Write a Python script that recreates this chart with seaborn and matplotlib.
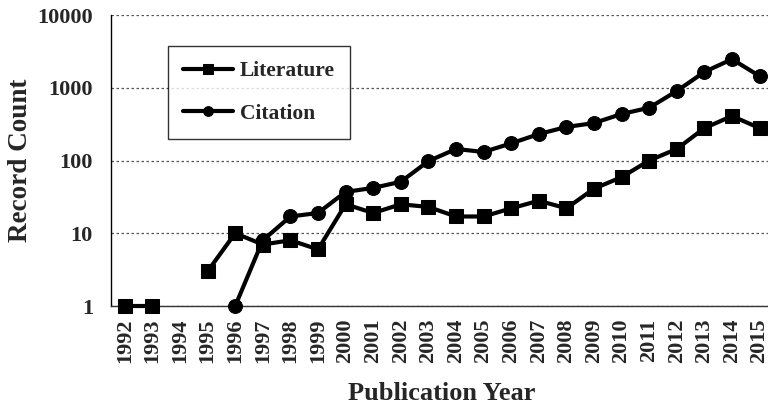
import numpy as np
import pandas as pd
import matplotlib
matplotlib.use("Agg")
import matplotlib.pyplot as plt
import seaborn as sns

years = list(range(1992, 2016))
literature = [1, 1, np.nan, 3, 10, 7, 8, 6, 25, 19, 25, 23, 17, 17, 22, 28, 22,
              41, 59, 100, 144, 279, 408, 279]
citation = [np.nan, np.nan, np.nan, np.nan, 1, 8, 17, 19, 37, 42, 51, 98, 144,
            131, 172, 231, 289, 327, 436, 531, 902, 1650, 2470, 1445]
ytick_vals = [1, 10, 100, 1000, 10000]
ytick_labels = ["1", "10", "100", "1000", "10000"]

sns.set_style("white")
plt.rcParams['font.family'] = ['Liberation Serif', 'DejaVu Serif']
plt.rcParams['font.weight'] = 'bold'

df = pd.DataFrame({"year": years, "Literature": literature, "Citation": citation})

fig = plt.figure(figsize=(7.68, 4.11), dpi=100)
ax = fig.add_axes([111/768, 105/411, 662.4/768, 291/411])

def segments(col):
    mask = df[col].notna().values
    segs, cur = [], []
    for i, m in enumerate(mask):
        if m:
            cur.append(i)
        elif cur:
            segs.append(cur); cur = []
    if cur:
        segs.append(cur)
    return segs

styles = {"Literature": dict(marker="s", markersize=10),
          "Citation": dict(marker="o", markersize=10)}
for col in ["Literature", "Citation"]:
    segs = segments(col)
    for k, idx in enumerate(segs):
        sub = df.iloc[idx]
        sns.lineplot(data=sub, x="year", y=col, ax=ax, color="black",
                     linewidth=3, markeredgecolor="black",
                     label=col if k == len(segs) - 1 else None,
                     clip_on=False, zorder=5, **styles[col])

ax.set_yscale("log")
ax.set_ylim(1, 10000)
ax.set_xlim(1991.5, 2015.5)
ax.set_yticks(ytick_vals)
ax.set_yticklabels(ytick_labels)
ax.minorticks_off()
ax.set_xticks(years)
ax.set_xticklabels([str(y) for y in years], rotation=90)
ax.tick_params(axis="x", length=0, labelsize=16, pad=9)
ax.tick_params(axis="y", length=0, labelsize=16, pad=13)
for lab in ax.get_xticklabels() + ax.get_yticklabels():
    lab.set_fontweight("bold")

ax.yaxis.grid(True, linestyle=(0, (2, 2)), color="#555555", linewidth=0.9)
ax.xaxis.grid(False)
ax.spines["top"].set_visible(False)
ax.spines["right"].set_visible(False)
ax.spines["left"].set_color("black")
ax.spines["left"].set_linewidth(1)
ax.spines["bottom"].set_color("#333333")
ax.spines["bottom"].set_linewidth(1)

ax.set_xlabel("Publication Year", fontsize=19, fontweight="bold", labelpad=14)
ax.set_ylabel("Record Count", fontsize=19.5, fontweight="bold", labelpad=3)

leg = ax.legend(loc="upper left", bbox_to_anchor=(0.086, 0.893), borderaxespad=0,
                fancybox=False, frameon=True, edgecolor="black",
                prop={"size": 15.5, "weight": "bold"}, handlelength=2.3,
                labelspacing=1.05, handletextpad=0.35, borderpad=0.7,
                markerscale=0.7)
leg.get_frame().set_linewidth(1)

fig.savefig("out.png", dpi=100)
